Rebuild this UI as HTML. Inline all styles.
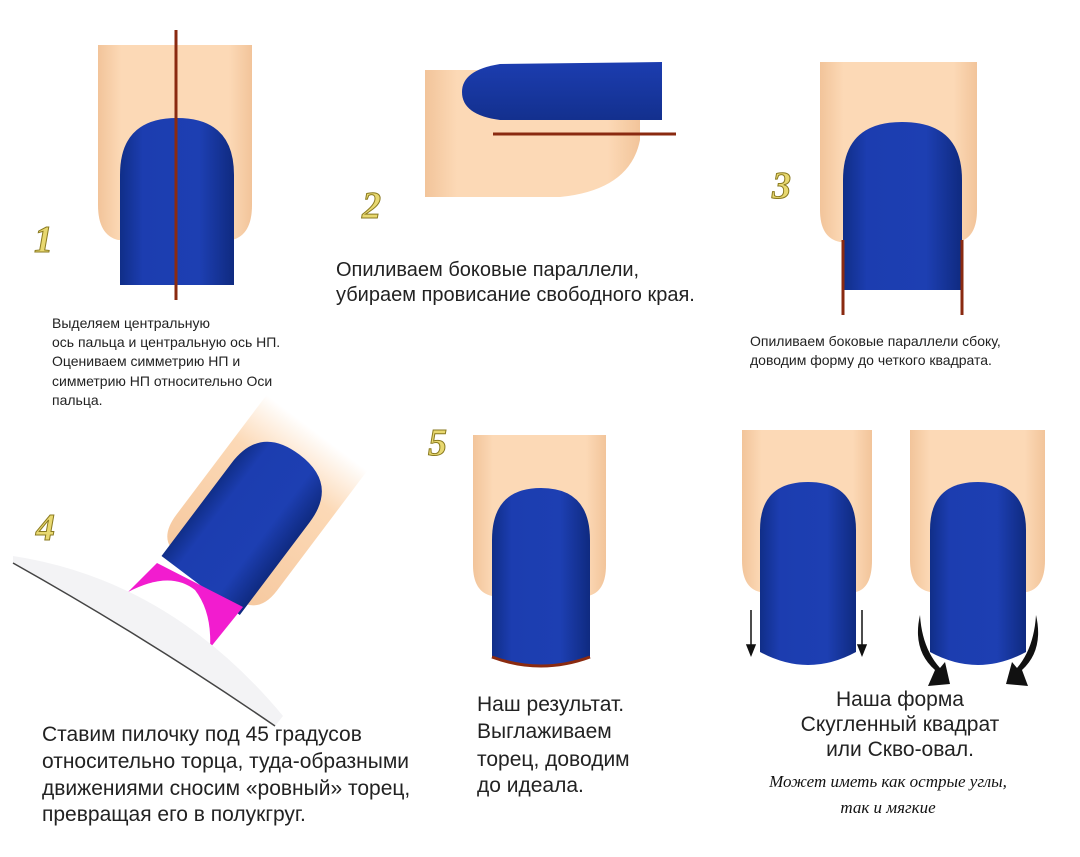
<!DOCTYPE html>
<html><head><meta charset="utf-8"><style>
html,body{margin:0;padding:0;background:#fff;width:1080px;height:857px;overflow:hidden}
svg{display:block}
.t{font-family:"Liberation Sans",sans-serif;fill:#222}
.n{font-family:"Liberation Serif",serif;font-style:italic;font-weight:bold;fill:#e8d870;stroke:#8a7a20;stroke-width:1;font-size:38px}
.s{font-family:"Liberation Serif",serif;font-style:italic;fill:#111;font-size:17px}
</style></head><body>
<svg width="1080" height="857" viewBox="0 0 1080 857">
<defs>
<linearGradient id="sk" x1="0" x2="1"><stop offset="0" stop-color="#f2c49a"/><stop offset=".15" stop-color="#fcd9b6"/><stop offset=".85" stop-color="#fcd9b6"/><stop offset="1" stop-color="#f2c49a"/></linearGradient>
<linearGradient id="sk4" x1="0" y1="1" x2="0" y2="0"><stop offset="0" stop-color="#f6c9a0"/><stop offset=".7" stop-color="#fcd9b6"/><stop offset="1" stop-color="#fff"/></linearGradient>
<linearGradient id="bl" x1="0" x2="1"><stop offset="0" stop-color="#102e88"/><stop offset=".2" stop-color="#1c3db0"/><stop offset=".7" stop-color="#1d3fb2"/><stop offset="1" stop-color="#0f2a80"/></linearGradient>
<linearGradient id="blv" x1="0" y1="0" x2="0" y2="1"><stop offset="0" stop-color="#1c3db0"/><stop offset="1" stop-color="#13308e"/></linearGradient>
</defs>

<!-- 1 -->
<path d="M98,45 H252 V205 Q252,235 232,240 H118 Q98,235 98,205 Z" fill="url(#sk)"/>
<path d="M120,285 V175 Q120,118 177,118 Q234,118 234,175 V285 Z" fill="url(#bl)"/>
<line x1="176" y1="30" x2="176" y2="300" stroke="#8a2a10" stroke-width="3"/>
<text class="n" x="34" y="252">1</text>
<text class="t" font-size="14"><tspan x="52" y="328">Выделяем центральную</tspan><tspan x="52" y="347">ось пальца и центральную ось НП.</tspan><tspan x="52" y="366">Оцениваем симметрию НП и</tspan><tspan x="52" y="386">симметрию НП относительно Оси</tspan><tspan x="52" y="405">пальца.</tspan></text>

<!-- 2 -->
<path d="M425,70 H640 V140 Q630,190 560,197 H425 Z" fill="url(#sk)"/>
<path d="M662,62 V120 H500 Q462,115 462,92 Q462,70 500,64 Z" fill="url(#blv)"/>
<line x1="493" y1="134" x2="676" y2="134" stroke="#8a2a10" stroke-width="3"/>
<text class="n" x="362" y="218">2</text>
<text class="t" font-size="20"><tspan x="336" y="276">Опиливаем боковые параллели,</tspan><tspan x="336" y="301">убираем провисание свободного края.</tspan></text>

<!-- 3 -->
<path d="M820,62 H977 V210 Q977,238 958,242 H840 Q820,238 820,210 Z" fill="url(#sk)"/>
<path d="M843,290 V180 Q843,122 902,122 Q962,122 962,180 V290 Z" fill="url(#bl)"/>
<line x1="843" y1="240" x2="843" y2="315" stroke="#8a2a10" stroke-width="3"/>
<line x1="962" y1="240" x2="962" y2="315" stroke="#8a2a10" stroke-width="3"/>
<text class="n" x="772" y="198">3</text>
<text class="t" font-size="14"><tspan x="750" y="346">Опиливаем боковые параллели сбоку,</tspan><tspan x="750" y="365">доводим форму до четкого квадрата.</tspan></text>

<!-- 4 -->
<g transform="rotate(37 250 520)">
<path d="M188,410 H314 V560 Q314,585 296,590 H204 Q188,585 188,560 Z" fill="url(#sk4)"/>
<path d="M201,602 V486 Q201,438 250,438 Q299,438 299,486 V602 Z" fill="url(#bl)"/>
</g>
<path d="M128,592 L157,563 L243,607 L210,648 Z" fill="#f21ccf"/>
<path d="M128,592 Q170,570 195,590 Q212,612 210,648 L160,620 Z" fill="#fff"/>
<path d="M13,556 Q170,580 283,716 L275,726 Q150,640 13,563 Z" fill="#f3f3f5"/>
<path d="M13,563 Q150,640 275,726" fill="none" stroke="#444" stroke-width="1.5"/>
<text class="n" x="36" y="540">4</text>
<text class="t" font-size="21"><tspan x="42" y="741">Ставим пилочку под 45 градусов</tspan><tspan x="42" y="768">относительно торца, туда-образными</tspan><tspan x="42" y="795">движениями сносим «ровный» торец,</tspan><tspan x="42" y="821">превращая его в полукгруг.</tspan></text>

<!-- 5 -->
<path d="M473,435 H606 V565 Q606,592 588,596 H492 Q473,592 473,565 Z" fill="url(#sk)"/>
<path d="M492,657 V540 Q492,488 541,488 Q590,488 590,540 V657 Q541,675 492,657 Z" fill="url(#bl)"/>
<path d="M492,657 Q541,675 590,657" fill="none" stroke="#8a2a10" stroke-width="3"/>
<text class="n" x="428" y="455">5</text>
<text class="t" font-size="21"><tspan x="477" y="711">Наш результат.</tspan><tspan x="477" y="738">Выглаживаем</tspan><tspan x="477" y="766">торец, доводим</tspan><tspan x="477" y="792">до идеала.</tspan></text>

<!-- 6 -->
<path d="M742,430 H872 V560 Q872,588 856,592 H760 Q742,588 742,560 Z" fill="url(#sk)"/>
<path d="M760,652 V530 Q760,482 808,482 Q856,482 856,530 V652 Q808,678 760,652 Z" fill="url(#bl)"/>
<path d="M910,430 H1045 V560 Q1045,588 1027,592 H930 Q910,588 910,560 Z" fill="url(#sk)"/>
<path d="M930,652 V530 Q930,482 978,482 Q1026,482 1026,530 V652 Q978,678 930,652 Z" fill="url(#bl)"/>
<g stroke="#111" stroke-width="1.5" fill="#111">
<line x1="751" y1="610" x2="751" y2="650"/><path d="M747,645 L751,655 L755,645Z"/>
<line x1="862" y1="610" x2="862" y2="650"/><path d="M858,645 L862,655 L866,645Z"/>
</g>
<path d="M920,615 Q912,650 935,670 L928,686 L950,684 L945,662 L940,668 Q922,648 920,615Z" fill="#111"/>
<path d="M1036,615 Q1044,650 1022,670 L1028,686 L1006,684 L1012,662 L1017,668 Q1034,648 1036,615Z" fill="#111"/>
<text class="t" font-size="21" text-anchor="middle"><tspan x="900" y="706">Наша форма</tspan><tspan x="900" y="731">Скугленный квадрат</tspan><tspan x="900" y="756">или Скво-овал.</tspan></text>
<text class="s" text-anchor="middle"><tspan x="888" y="787">Может иметь как острые углы,</tspan><tspan x="888" y="813">так и мягкие</tspan></text>
</svg>
</body></html>
